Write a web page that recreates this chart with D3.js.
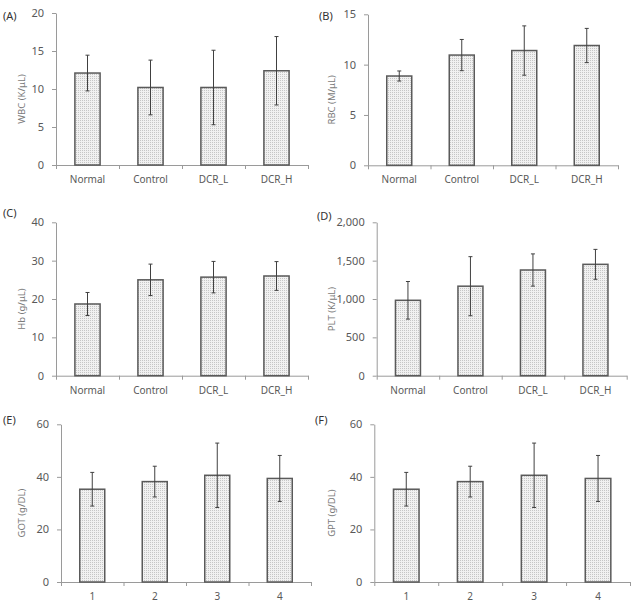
<!DOCTYPE html>
<html>
<head>
<meta charset="utf-8">
<script src="https://cdn.jsdelivr.net/npm/d3@7"></script>
<style>
  body { margin: 0; background: #fff; }
  svg { font-family: "Noto Sans", "Open Sans", sans-serif; }
  .tick text { fill: #595959; }
</style>
</head>
<body>
<svg id="chart" width="634" height="602"></svg>
<script>
// categories for the blood panels and the liver panels
const groups = ['Normal', 'Control', 'DCR_L', 'DCR_H'];
const groupNums = ['1', '2', '3', '4'];

// means and standard deviations
const wbcMean = [12.1, 10.2, 10.2, 12.4];
const wbcSd = [2.35, 3.6, 4.9, 4.5];
const rbcMean = [8.87, 10.95, 11.4, 11.9];
const rbcSd = [0.5, 1.55, 2.45, 1.7];
const hbMean = [18.7, 25.0, 25.7, 26.0];
const hbSd = [3.0, 4.1, 4.1, 3.75];
const pltMean = [983, 1167, 1378, 1452];
const pltSd = [245, 385, 210, 195];
const gotMean = [35.3, 38.2, 40.6, 39.4];
const gotSd = [6.4, 5.85, 12.25, 8.75];
const gptMean = [35.3, 38.2, 40.6, 39.4];
const gptSd = [6.4, 5.85, 12.25, 8.75];

// y tick values for each panel
const wbcTicks = [0, 5, 10, 15, 20];
const rbcTicks = [0, 5, 10, 15];
const hbTicks = [0, 10, 20, 30, 40];
const pltTicks = [0, 500, 1000, 1500, 2000];
const gotTicks = [0, 20, 40, 60];

const svg = d3.select('#chart');

// dotted fill like the original
const defs = svg.append('defs');
const pat = defs.append('pattern')
    .attr('id', 'dots')
    .attr('width', 2).attr('height', 2)
    .attr('patternUnits', 'userSpaceOnUse');
pat.append('rect').attr('width', 2).attr('height', 2).attr('fill', '#f1f1f1');
pat.append('rect').attr('width', 1).attr('height', 1).attr('fill', '#c6c6c6');

// layout of each panel (axis box in page pixels)
const panels = [
  {tag: '(A)', label: 'WBC (K/\u03bcL)', cats: groups, mean: wbcMean, sd: wbcSd, ticks: wbcTicks, fmt: d3.format('d'),
   x0: 56, x1: 308, top: 13, bottom: 165, tx: 3, ty: 20, lx: 22},
  {tag: '(B)', label: 'RBC (M/\u03bcL)', cats: groups, mean: rbcMean, sd: rbcSd, ticks: rbcTicks, fmt: d3.format('d'),
   x0: 368, x1: 618, top: 14.3, bottom: 165.3, tx: 319, ty: 20, lx: 332},
  {tag: '(C)', label: 'Hb  (g/\u03bcL)', cats: groups, mean: hbMean, sd: hbSd, ticks: hbTicks, fmt: d3.format('d'),
   x0: 56, x1: 308, top: 222.3, bottom: 375.7, tx: 3, ty: 217, lx: 22},
  {tag: '(D)', label: 'PLT  (K/\u03bcL)', cats: groups, mean: pltMean, sd: pltSd, ticks: pltTicks, fmt: d3.format(','),
   x0: 376.7, x1: 626.7, top: 222.3, bottom: 375.7, tx: 317, ty: 220, lx: 332},
  {tag: '(E)', label: 'GOT (g/DL)', cats: groupNums, mean: gotMean, sd: gotSd, ticks: gotTicks, fmt: d3.format('d'),
   x0: 61, x1: 311, top: 424.3, bottom: 582, tx: 3, ty: 424, lx: 22},
  {tag: '(F)', label: 'GPT (g/DL)', cats: groupNums, mean: gptMean, sd: gptSd, ticks: gotTicks, fmt: d3.format('d'),
   x0: 374.3, x1: 630, top: 424.3, bottom: 582, tx: 315, ty: 424, lx: 332}
];

panels.forEach(drawPanel);

function drawPanel(p) {
  const data = p.cats.map((c, i) => ({cat: c, mean: p.mean[i], sd: p.sd[i]}));

  const x = d3.scaleBand()
      .domain(p.cats)
      .range([p.x0, p.x1])
      .paddingInner(0.6)
      .paddingOuter(0.3);

  const y = d3.scaleLinear()
      .domain(d3.extent(p.ticks))
      .range([p.bottom, p.top]);

  // panel tag
  svg.append('text')
      .attr('x', p.tx).attr('y', p.ty)
      .attr('font-size', 11)
      .attr('fill', '#333')
      .text(p.tag);

  // y axis
  const yAxisG = svg.append('g')
      .attr('transform', `translate(${p.x0},0)`)
      .call(d3.axisLeft(y).tickValues(p.ticks).tickFormat(p.fmt).tickSize(4).tickSizeOuter(0).tickPadding(8));
  yAxisG.selectAll('.domain, .tick line').attr('stroke', '#9a9a9a');
  yAxisG.selectAll('text').attr('font-size', 11).attr('font-family', '"Noto Sans", sans-serif');

  // x axis: ticks on band edges, labels at band centres
  const edges = d3.scaleLinear().domain([0, p.cats.length]).range([p.x0, p.x1]);
  const xEdgeG = svg.append('g')
      .attr('transform', `translate(0,${p.bottom})`)
      .call(d3.axisBottom(edges).ticks(p.cats.length).tickSize(4).tickSizeOuter(0).tickFormat(''));
  xEdgeG.selectAll('.domain, .tick line').attr('stroke', '#9a9a9a');

  const xLabG = svg.append('g')
      .attr('transform', `translate(0,${p.bottom})`)
      .call(d3.axisBottom(x).tickSize(0).tickPadding(11));
  xLabG.select('.domain').remove();
  xLabG.selectAll('text').attr('font-size', 10).attr('font-family', '"Noto Sans", sans-serif');

  // y label
  svg.append('text')
      .attr('transform', `translate(${p.lx},${(p.top + p.bottom) / 2 + 10}) rotate(-90)`)
      .attr('text-anchor', 'middle')
      .attr('dominant-baseline', 'middle')
      .attr('font-size', 9.5)
      .attr('fill', '#7a7a7a')
      .text(p.label);

  // bars
  svg.append('g').selectAll('rect')
      .data(data)
      .join('rect')
      .attr('x', d => x(d.cat))
      .attr('y', d => y(d.mean))
      .attr('width', x.bandwidth())
      .attr('height', d => y(0) - y(d.mean))
      .attr('fill', 'url(#dots)')
      .attr('stroke', '#5a5a5a')
      .attr('stroke-width', 1.5);

  // error bars
  const eg = svg.append('g').attr('stroke', '#404040').attr('stroke-width', 1);
  const cx = d => x(d.cat) + x.bandwidth() / 2;
  eg.selectAll('line.v')
      .data(data)
      .join('line')
      .attr('class', 'v')
      .attr('x1', cx).attr('x2', cx)
      .attr('y1', d => y(d.mean + d.sd))
      .attr('y2', d => y(d.mean - d.sd));
  ['+', '-'].forEach(s => {
    eg.selectAll('line.c' + (s === '+' ? 'u' : 'd'))
        .data(data)
        .join('line')
        .attr('class', 'c' + (s === '+' ? 'u' : 'd'))
        .attr('x1', d => cx(d) - 2).attr('x2', d => cx(d) + 2)
        .attr('y1', d => y(s === '+' ? d.mean + d.sd : d.mean - d.sd))
        .attr('y2', d => y(s === '+' ? d.mean + d.sd : d.mean - d.sd));
  });
}
</script>
</body>
</html>
